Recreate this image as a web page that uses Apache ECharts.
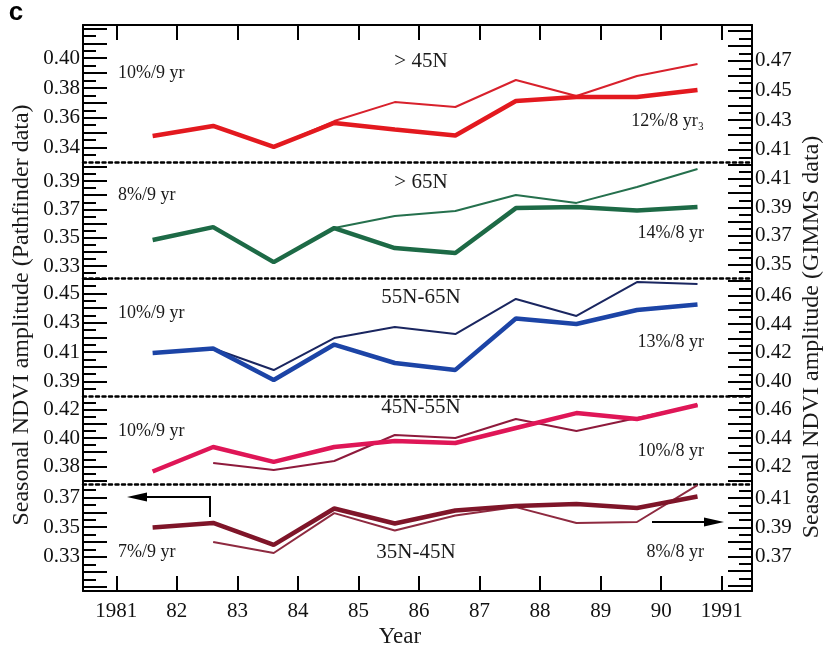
<!DOCTYPE html>
<html>
<head>
<meta charset="utf-8">
<script src="https://cdn.jsdelivr.net/npm/echarts@6/dist/echarts.min.js"></script>
<style>
  html, body { margin: 0; padding: 0; background: #fff; }
  #chart { width: 825px; height: 651px; }
</style>
</head>
<body>
<div id="chart"></div>
<script>
// ---- Data -------------------------------------------------------------
// Annual values are plotted at the middle of the growing season.
const pathfinderYears = [1981.6, 1982.6, 1983.6, 1984.6, 1985.6, 1986.6, 1987.6, 1988.6, 1989.6, 1990.6];
const gimmsYears      = [1982.6, 1983.6, 1984.6, 1985.6, 1986.6, 1987.6, 1988.6, 1989.6, 1990.6];

const yearTicks      = [1981, 1982, 1983, 1984, 1985, 1986, 1987, 1988, 1989, 1990, 1991];
const yearTickLabels = ['1981', '82', '83', '84', '85', '86', '87', '88', '89', '90', '1991'];

const regionNames     = ['> 45N', '> 65N', '55N-65N', '45N-55N', '35N-45N'];
const pathfinderRates = ['10%/9 yr', '8%/9 yr', '10%/9 yr', '10%/9 yr', '7%/9 yr'];
const gimmsRates      = ['12%/8 yr₃', '14%/8 yr', '13%/8 yr', '10%/8 yr', '8%/8 yr'];

// Seasonal NDVI amplitude, Pathfinder data (left axes)
const pf45N   = [0.3478, 0.3545, 0.3404, 0.3565, 0.3521, 0.3481, 0.3713, 0.3740, 0.3740, 0.3787];
const pf65N   = [0.3484, 0.3575, 0.3328, 0.3568, 0.3427, 0.3392, 0.3709, 0.3717, 0.3692, 0.3717];
const pf55_65 = [0.4094, 0.4125, 0.3910, 0.4152, 0.4026, 0.3979, 0.4330, 0.4292, 0.4388, 0.4425];
const pf45_55 = [0.3765, 0.3937, 0.3832, 0.3937, 0.3979, 0.3965, 0.4070, 0.4175, 0.4133, 0.4232];
const pf35_45 = [0.3498, 0.3529, 0.3381, 0.3626, 0.3525, 0.3613, 0.3643, 0.3656, 0.3629, 0.3707];

// Seasonal NDVI amplitude, GIMMS data (right axes)
const gi45N   = [0.4261, 0.4119, 0.4294, 0.4422, 0.4389, 0.4571, 0.4463, 0.4598, 0.4679];
const gi65N   = [0.3763, 0.3518, 0.3756, 0.3840, 0.3875, 0.3988, 0.3932, 0.4044, 0.4170];
const gi55_65 = [0.4230, 0.4080, 0.4303, 0.4380, 0.4331, 0.4576, 0.4457, 0.4694, 0.4680];
const gi45_55 = [0.4225, 0.4175, 0.4239, 0.4423, 0.4402, 0.4536, 0.4451, 0.4543, 0.4635];
const gi35_45 = [0.3799, 0.3724, 0.3997, 0.3878, 0.3980, 0.4038, 0.3929, 0.3936, 0.4189];

// Tick labels of each panel
const leftTickLabels  = [[0.34, 0.36, 0.38, 0.40], [0.33, 0.35, 0.37, 0.39], [0.39, 0.41, 0.43, 0.45], [0.38, 0.40, 0.42], [0.33, 0.35, 0.37]];
const rightTickLabels = [[0.41, 0.43, 0.45, 0.47], [0.35, 0.37, 0.39, 0.41], [0.40, 0.42, 0.44, 0.46], [0.42, 0.44, 0.46], [0.37, 0.39, 0.41]];

// ---- Layout & style ---------------------------------------------------
const SERIF = '"Liberation Serif", "DejaVu Serif", serif';
const PLOT_LEFT = 83, PLOT_RIGHT = 752;

const panels = [
  { top: 25,  height: 137, left: [0.3303, 0.4223], right: [0.4018, 0.4942], thick: '#e3191f', thin: '#d8212c' },
  { top: 162, height: 116, left: [0.3216, 0.4034], right: [0.3405, 0.4219], thick: '#1d6a46', thin: '#25704d' },
  { top: 278, height: 118, left: [0.3801, 0.4606], right: [0.3899, 0.4722], thick: '#1c44a6', thin: '#1a2660' },
  { top: 396, height: 88,  left: [0.3677, 0.4295], right: [0.4076, 0.4699], thick: '#df1657', thin: '#8e1a3c' },
  { top: 484, height: 107, left: [0.3071, 0.3791], right: [0.3464, 0.4196], thick: '#7f1529', thin: '#8e2a40' }
];
const pfSeries = [pf45N, pf65N, pf55_65, pf45_55, pf35_45];
const giSeries = [gi45N, gi65N, gi55_65, gi45_55, gi35_45];

// tick positions every 0.005 inside a range; even steps are the longer ones
function tickValues(range, major) {
  const out = [];
  for (let n = Math.ceil(range[0] * 200 - 1e-6); n <= Math.floor(range[1] * 200 + 1e-6); n++) {
    if ((n % 2 === 0) === major) out.push(n / 200);
  }
  return out;
}

const zip = (xs, ys) => xs.map((x, i) => [x, ys[i]]);

const grids = panels.map(p => ({ left: PLOT_LEFT, right: 825 - PLOT_RIGHT, top: p.top, height: p.height }));

const xAxes = [];
panels.forEach((p, i) => {
  const first = i === 0;
  xAxes.push({
    type: 'value', gridIndex: i, position: 'top', min: 1980.45, max: 1991.5,
    splitLine: { show: false },
    axisLabel: { show: false },
    axisLine: first
      ? { show: true, lineStyle: { color: '#000', width: 2 } }
      : { show: true, lineStyle: { color: '#000', width: 2.5, type: [3, 3.5] } },
    axisTick: first
      ? { show: true, inside: true, length: 15, customValues: yearTicks, lineStyle: { color: '#000', width: 2 } }
      : { show: false }
  });
});
// bottom year axis
xAxes.push({
  type: 'value', gridIndex: 4, position: 'bottom', min: 1980.45, max: 1991.5,
  splitLine: { show: false },
  axisLine: { show: true, lineStyle: { color: '#000', width: 2 } },
  axisTick: { show: true, inside: true, length: 15, customValues: yearTicks, lineStyle: { color: '#000', width: 2 } },
  axisLabel: {
    show: true, customValues: yearTicks, margin: 10,
    formatter: v => yearTickLabels[yearTicks.indexOf(Math.round(v))],
    fontFamily: SERIF, fontSize: 21, color: '#111'
  }
});

const yAxes = [];
panels.forEach((p, i) => {
  ['left', 'right'].forEach(side => {
    const range = p[side];
    const labels = side === 'left' ? leftTickLabels[i] : rightTickLabels[i];
    yAxes.push({
      type: 'value', gridIndex: i, position: side, min: range[0], max: range[1],
      splitLine: { show: false },
      axisLine: { show: true, onZero: false, lineStyle: { color: '#000', width: 2 } },
      axisTick: { show: true, inside: true, length: 24, customValues: tickValues(range, true), lineStyle: { color: '#000', width: 2 } },
      axisLabel: {
        show: true, customValues: labels, margin: 3,
        formatter: v => v.toFixed(2),
        fontFamily: SERIF, fontSize: 21, color: '#111'
      }
    });
    yAxes.push({
      type: 'value', gridIndex: i, position: side, min: range[0], max: range[1],
      splitLine: { show: false },
      axisLine: { show: false },
      axisLabel: { show: false },
      axisTick: { show: true, inside: true, length: 13, customValues: tickValues(range, false), lineStyle: { color: '#000', width: 2 } }
    });
  });
});

const series = [];
panels.forEach((p, i) => {
  series.push({
    name: 'GIMMS ' + regionNames[i], type: 'line', xAxisIndex: i, yAxisIndex: 4 * i + 2,
    data: zip(gimmsYears, giSeries[i]), symbol: 'none', z: 2,
    lineStyle: { color: p.thin, width: 2 }
  });
  series.push({
    name: 'Pathfinder ' + regionNames[i], type: 'line', xAxisIndex: i, yAxisIndex: 4 * i,
    data: zip(pathfinderYears, pfSeries[i]), symbol: 'none', z: 3,
    lineStyle: { color: p.thick, width: 4.5 }
  });
});

// ---- Annotations --------------------------------------------------------
const rateY   = [73, 195, 313, 431, 552];
const regionY = [61, 182, 297, 407, 552];
const gRateY  = [121, 233, 342, 451, 552];
const regionX = [421, 421, 421, 421, 416];

const txt = (x, y, text, size, align, extra) => Object.assign({
  type: 'text', x, y, silent: true,
  style: { text, font: size + 'px ' + SERIF, fill: '#1a1a1a', align, verticalAlign: 'middle' }
}, extra || {});

const graphic = [];
panels.forEach((p, i) => {
  graphic.push(txt(118, rateY[i], pathfinderRates[i], 18, 'left'));
  graphic.push(txt(regionX[i], regionY[i], regionNames[i], 21, 'center'));
  graphic.push(txt(704, gRateY[i], gimmsRates[i], 18, 'right'));
});
graphic.push(txt(22, 315, 'Seasonal NDVI amplitude (Pathfinder data)', 24, 'center', { rotation: Math.PI / 2 }));
graphic.push(txt(812, 337, 'Seasonal NDVI amplitude (GIMMS data)', 24, 'center', { rotation: Math.PI / 2 }));
graphic.push(txt(400, 637, 'Year', 23, 'center'));
graphic.push({
  type: 'text', x: 16, y: 13, silent: true,
  style: { text: 'c', font: 'bold 26px "Liberation Sans", "DejaVu Sans", sans-serif', fill: '#000', align: 'center', verticalAlign: 'middle' }
});
// arrows pointing to the axis each curve belongs to
graphic.push({ type: 'polyline', silent: true, shape: { points: [[210, 517], [210, 497], [144, 497]] }, style: { stroke: '#000', lineWidth: 2, fill: null } });
graphic.push({ type: 'polygon', silent: true, shape: { points: [[127, 497], [147, 492.5], [147, 501.5]] }, style: { fill: '#000' } });
graphic.push({ type: 'line', silent: true, shape: { x1: 652, y1: 522, x2: 707, y2: 522 }, style: { stroke: '#000', lineWidth: 2 } });
graphic.push({ type: 'polygon', silent: true, shape: { points: [[724, 522], [704, 517.5], [704, 526.5]] }, style: { fill: '#000' } });

const chart = echarts.init(document.getElementById('chart'), null, { renderer: 'canvas' });
chart.setOption({
  animation: false,
  backgroundColor: '#fff',
  grid: grids,
  xAxis: xAxes,
  yAxis: yAxes,
  series,
  graphic
});
</script>
</body>
</html>
